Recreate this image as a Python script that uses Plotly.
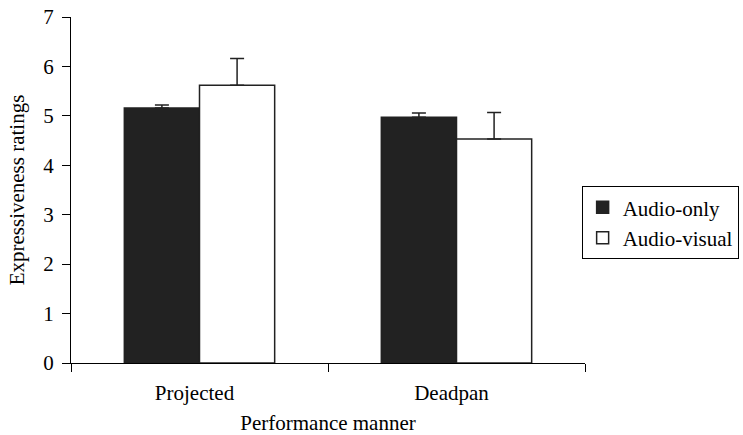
import plotly.graph_objects as go

categories = ["Projected", "Deadpan"]
audio_only = [5.16, 4.97]
audio_only_err = [0.06, 0.09]
audio_visual = [5.62, 4.53]
audio_visual_err = [0.54, 0.54]

W, H = 743, 435
L, R, T, B = 71.4, 584.6, 17.3, 363.3

fig = go.Figure()
fig.add_trace(go.Bar(
    x=categories, y=audio_only, name="Audio-only",
    marker=dict(color="#222222", line=dict(color="#222222", width=1.5)),
    error_y=dict(type="data", array=audio_only_err, arrayminus=[0, 0], symmetric=False,
                 color="#222222", thickness=1.5, width=7),
))
fig.add_trace(go.Bar(
    x=categories, y=audio_visual, name="Audio-visual",
    marker=dict(color="white", line=dict(color="#222222", width=1.5)),
    error_y=dict(type="data", array=audio_visual_err, arrayminus=[0, 0], symmetric=False,
                 color="#222222", thickness=1.5, width=7),
))

FS = 21
font = dict(family="Liberation Serif", size=FS, color="black")
fig.update_layout(
    width=W, height=H,
    margin=dict(l=L, r=W - R, t=T, b=H - B, pad=0, autoexpand=False),
    paper_bgcolor="white", plot_bgcolor="white",
    font=font,
    hovermode=False,
    barmode="group", bargap=0.415, bargroupgap=0,
    showlegend=True,
    legend=dict(x=(738 - L) / (R - L), y=(B - 223) / (B - T),
                xanchor="right", yanchor="middle",
                bordercolor="black", borderwidth=1, font=dict(size=FS), bgcolor="white",
                traceorder="normal"),
    xaxis=dict(showline=True, linecolor="black", linewidth=1.2, ticks="outside",
               tickson="boundaries", ticklen=8, tickcolor="black", tickwidth=1.2,
               ticklabelstandoff=11, ticklabelshift=-5,
               title=dict(text="Performance manner", font=dict(size=FS), standoff=18),
               showgrid=False, zeroline=False),
    yaxis=dict(range=[0, 7], dtick=1, showline=True, linecolor="black", linewidth=1.2,
               ticks="outside", ticklen=8, tickcolor="black", tickwidth=1.2,
               ticklabelstandoff=4,
               title=dict(text="Expressiveness ratings", font=dict(size=FS), standoff=12),
               showgrid=False, zeroline=False),
)
fig.write_html("out.html", config={"displayModeBar": False},
               post_script="document.body.style.margin='0';")
